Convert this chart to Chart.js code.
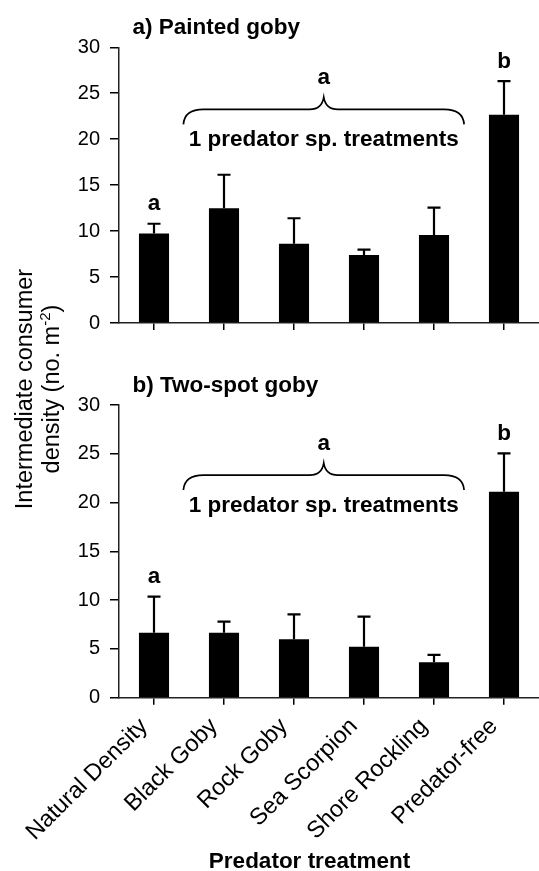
<!DOCTYPE html>
<html><head><meta charset="utf-8">
<script src="https://cdn.jsdelivr.net/npm/chart.js@4.4.1/dist/chart.umd.min.js"></script>
<style>
html,body{margin:0;padding:0;background:#fff;}
body{width:539px;height:871px;position:relative;overflow:hidden;font-family:'Liberation Sans',Arial,sans-serif;}
#w1{position:absolute;left:0;top:0;width:539px;height:345px;}
#w2{position:absolute;left:0;top:350px;width:539px;height:521px;}
#ylab{position:absolute;width:340px;height:54px;left:-132.5px;top:362px;line-height:27px;font-size:23.5px;text-align:center;transform:rotate(-90deg);transform-origin:50% 50%;white-space:nowrap;color:#000;}
#ylab sup{font-size:15px;vertical-align:baseline;position:relative;top:-9px;}
</style></head>
<body>
<div id="w1"><canvas id="c1"></canvas></div>
<div id="w2"><canvas id="c2"></canvas></div>
<div id="ylab">Intermediate consumer<br>density (no. m<sup>-2</sup>)</div>
<script>
// ---- data ----
const categories = ['Natural Density','Black Goby','Rock Goby','Sea Scorpion','Shore Rockling','Predator-free'];
const paintedMeans = [9.75, 12.48, 8.62, 7.40, 9.57, 22.65];
const paintedSE    = [1.05, 3.65, 2.78, 0.59, 2.98, 3.68];
const twoSpotMeans = [6.66, 6.66, 5.98, 5.23, 3.63, 21.11];
const twoSpotSE    = [3.69, 1.13, 2.57, 3.07, 0.75, 3.94];
const groupLetters = ['a','','','','','b'];
const yTicks = [0,5,10,15,20,25,30];
const panelTitles = ['a) Painted goby','b) Two-spot goby'];
const braceLetter = 'a';
const braceText = '1 predator sp. treatments';
const xTitle = 'Predator treatment';

const FONT = "'Liberation Sans', Arial, sans-serif";
const BOLD = 'bold 22.5px ' + FONT;

const annot = {
  id:'annot',
  afterDatasetsDraw(chart, args, o){
    const ctx = chart.ctx, xs = chart.scales.x, ys = chart.scales.y;
    const meta = chart.getDatasetMeta(0);
    ctx.save();
    ctx.strokeStyle = '#000'; ctx.fillStyle = '#000';
    ctx.lineWidth = 2.2;
    ctx.textAlign = 'center'; ctx.textBaseline = 'alphabetic';
    ctx.font = BOLD;
    meta.data.forEach((bar, i) => {
      const top = ys.getPixelForValue(o.means[i] + o.errs[i]);
      ctx.beginPath();
      ctx.moveTo(bar.x, bar.y); ctx.lineTo(bar.x, top);
      ctx.moveTo(bar.x - 6.5, top); ctx.lineTo(bar.x + 6.5, top);
      ctx.stroke();
      if (o.letters[i]) ctx.fillText(o.letters[i], bar.x, top - 13.5);
    });
    // brace
    const x0 = xs.getPixelForValue(o.brace.from), x1 = xs.getPixelForValue(o.brace.to);
    const xm = (x0 + x1) / 2, yH = ys.getPixelForValue(o.brace.y);
    ctx.lineWidth = 1.7;
    ctx.beginPath();
    ctx.moveTo(x0, yH + 15);
    ctx.quadraticCurveTo(x0 + 1, yH, x0 + 20, yH);
    ctx.lineTo(xm - 14, yH);
    ctx.quadraticCurveTo(xm - 2, yH, xm, yH - 12);
    ctx.quadraticCurveTo(xm + 2, yH, xm + 14, yH);
    ctx.lineTo(x1 - 20, yH);
    ctx.quadraticCurveTo(x1 - 1, yH, x1, yH + 15);
    ctx.stroke();
    ctx.fillText(braceLetter, xm, yH - 25);
    ctx.fillText(braceText, xm, yH + 37);
    // panel title
    ctx.textAlign = 'left';
    ctx.fillText(o.title, 132.5, o.titleY);
    if (o.xTitle) { ctx.textAlign = 'center'; ctx.fillText(o.xTitle, 309.5, o.xTitleY); }
    ctx.restore();
  }
};

function makeChart(id, means, errs, title, titleY, braceY, xAxisH, padTop, showLabels, xTitleY){
  return new Chart(document.getElementById(id), {
    type:'bar',
    data:{labels:categories, datasets:[{data:means, backgroundColor:'#000', borderWidth:0, categoryPercentage:1, barPercentage:0.43}]},
    options:{
      responsive:true, maintainAspectRatio:false, animation:false, devicePixelRatio:1,
      layout:{padding:{top:padTop, left:0, right:0, bottom:0}},
      plugins:{legend:{display:false}, tooltip:{enabled:false},
        annot:{means:means, errs:errs, letters:groupLetters, title:title, titleY:titleY,
          brace:{from:0.42, to:4.43, y:braceY}, xTitle: showLabels ? xTitle : null, xTitleY:xTitleY}},
      scales:{
        x:{type:'category', offset:true,
          grid:{offset:false, drawOnChartArea:false, drawTicks:true, tickLength:7, color:'#000', lineWidth:1.5},
          border:{display:true, color:'#222', width:1.5},
          ticks:{color:'#000', font:{family:FONT, size:23.5}, maxRotation:45, minRotation:45, padding:8, labelOffset:-10, autoSkip:false,
            callback:function(v,i){ return showLabels ? categories[i] : ''; }},
          afterFit:function(s){ s.height = xAxisH; }},
        y:{min:0, max:30,
          afterBuildTicks:function(s){ s.ticks = yTicks.map(v=>({value:v})); },
          grid:{drawOnChartArea:false, drawTicks:true, tickLength:9, color:'#000', lineWidth:1.5},
          border:{display:true, color:'#222', width:1.5},
          ticks:{color:'#000', font:{family:FONT, size:20}, padding:10},
          afterFit:function(s){ s.width = 119; }}
      }
    },
    plugins:[annot]
  });
}

makeChart('c1', paintedMeans, paintedSE, panelTitles[0], 34, 23.24, 345 - 332.7, 47.3, false, 0);
makeChart('c2', twoSpotMeans, twoSpotSE, panelTitles[1], 41.7, 22.82, 521 - 347.7, 55, true, 518);
</script>
</body></html>
